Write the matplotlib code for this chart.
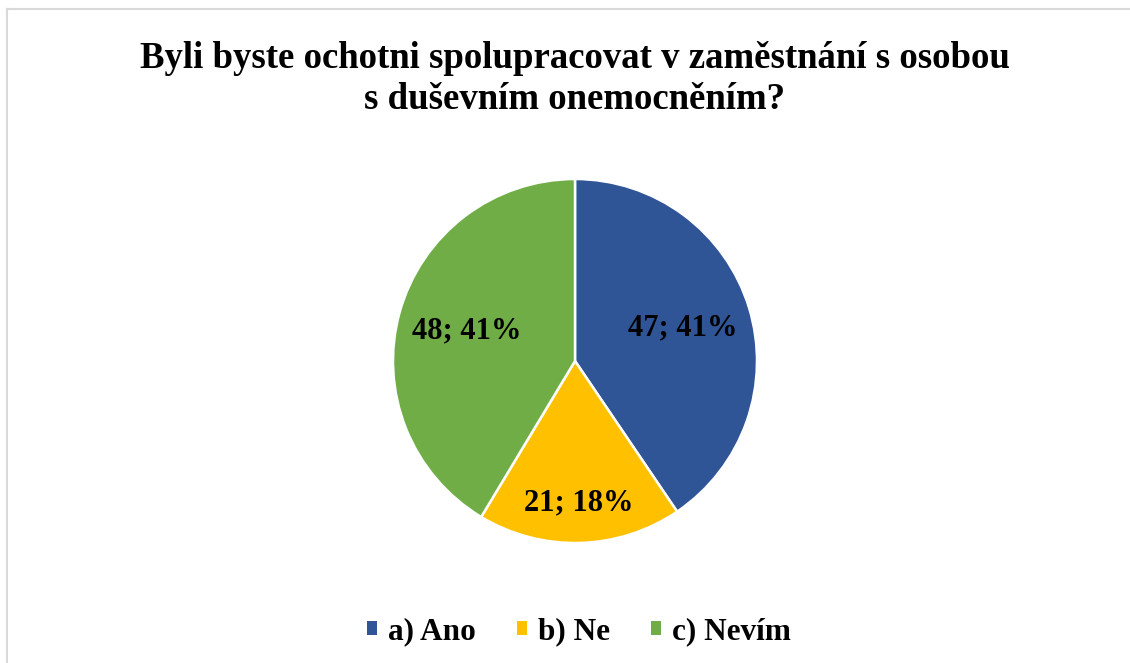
import matplotlib
matplotlib.use("Agg")
import matplotlib.pyplot as plt
from matplotlib.lines import Line2D
from matplotlib.patches import Patch
import numpy as np

categories = ["a) Ano", "b) Ne", "c) Nevím"]
values = [47, 21, 48]
colors = ["#2F5597", "#FFC000", "#70AD47"]
title = "Byli byste ochotni spolupracovat v zaměstnání s osobou\ns duševním onemocněním?"

plt.rcParams['font.family'] = ['Liberation Serif', 'DejaVu Serif']

W, H = 1130, 663
fig = plt.figure(figsize=(W / 100, H / 100), dpi=100)
fig.patch.set_facecolor("white")

# border (top and left visible)
fig.add_artist(Line2D([7 / W, 7 / W], [0, 1 - 9 / H], transform=fig.transFigure,
                      color="#D9D9D9", lw=1.5))
fig.add_artist(Line2D([7 / W, 1], [1 - 9 / H, 1 - 9 / H], transform=fig.transFigure,
                      color="#D9D9D9", lw=1.5))

cx, cy, r = 575, 361, 182
ax = fig.add_axes([(cx - r) / W, (H - cy - r) / H, 2 * r / W, 2 * r / H])
wedges, _ = ax.pie(values, colors=colors, startangle=90, counterclock=False,
                   wedgeprops=dict(edgecolor="white", linewidth=1.8))
ax.set_xlim(-1, 1)
ax.set_ylim(-1, 1)
ax.set_aspect("equal")
ax.axis("off")

total = sum(values)
dists = [0.62, 0.78, 0.62]
for w, v, d in zip(wedges, values, dists):
    ang = np.deg2rad((w.theta1 + w.theta2) / 2)
    pct = round(v / total * 100)
    ax.text(d * np.cos(ang), d * np.sin(ang), f"{v}; {pct}%", ha="center", va="center",
            fontsize=22, fontweight="bold", color="black")

fig.text(cx / W, 1 - 79 / H, title, ha="center", va="center", fontsize=26.5,
         fontweight="bold", linespacing=1.22)

handles = [Patch(facecolor=c, edgecolor="none") for c in colors]
fig.legend(handles, categories, loc="center", bbox_to_anchor=(579 / W, 1 - 632 / H),
           ncol=3, frameon=False, prop=dict(size=22.5, weight="bold"),
           handlelength=0.33, handleheight=0.33, handletextpad=0.35, columnspacing=1.3)

fig.savefig("out.png", dpi=100)
